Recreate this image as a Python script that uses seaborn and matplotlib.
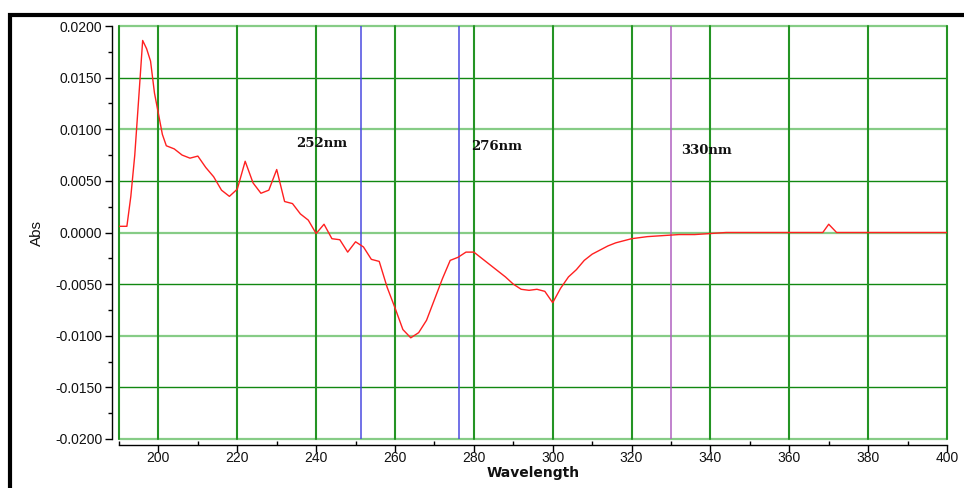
import matplotlib
matplotlib.use("Agg")
import matplotlib.pyplot as plt
import seaborn as sns
import numpy as np
import pandas as pd
from matplotlib.ticker import MultipleLocator, FuncFormatter
from matplotlib.patches import Rectangle

# ---- data ----
wavelength = [190, 192, 193, 194, 195, 196, 197, 198, 199, 200, 201, 202, 204, 206, 208,
              210, 212, 214, 216, 218, 220, 222, 224, 226, 228, 230, 232, 234, 236, 238,
              240, 242, 244, 246, 248, 250, 252, 254, 256, 258, 260, 262, 264, 266, 268,
              270, 272, 274, 276, 278, 280, 282, 284, 286, 288, 290, 292, 294, 296, 298,
              300, 302, 304, 306, 308, 310, 312, 314, 316, 318, 320, 324, 328, 332, 336,
              340, 344, 350, 360, 368.5, 370, 372, 380, 390, 400]
absorbance = [0.0006, 0.0006, 0.0035, 0.0075, 0.0130, 0.0186, 0.0178, 0.0166, 0.0135, 0.0115,
              0.0095, 0.0084, 0.0081, 0.0075, 0.0072, 0.0074, 0.0063, 0.0054, 0.0041, 0.0035,
              0.0042, 0.0069, 0.0048, 0.0038, 0.0041, 0.0061, 0.0030, 0.0028, 0.0018, 0.0012,
              -0.0001, 0.0008, -0.0006, -0.0007, -0.0019, -0.0009, -0.0014, -0.0026, -0.0028, -0.0053,
              -0.0073, -0.0094, -0.0102, -0.0097, -0.0085, -0.0065, -0.0045, -0.0027, -0.0024, -0.0019,
              -0.0019, -0.0025, -0.0031, -0.0037, -0.0043, -0.0050, -0.0055, -0.0056, -0.0055, -0.0057,
              -0.0068, -0.0054, -0.0043, -0.0036, -0.0027, -0.0021, -0.0017, -0.0013, -0.0010, -0.0008,
              -0.0006, -0.0004, -0.0003, -0.0002, -0.0002, -0.0001, 0.0000, 0.0000, 0.0000, 0.0000,
              0.0008, 0.0000, 0.0000, 0.0000, 0.0000]

marker_wl = [251.3, 276.2, 330.0]
marker_labels = ["252nm", "276nm", "330nm"]
marker_colors = ["#4a4ae0", "#4a4ae0", "#b060c0"]
label_x = [234.9, 279.3, 332.5]
label_y = [0.0086, 0.0083, 0.0079]

x_ticks = list(range(200, 401, 20))
y_ticks = [-0.02, -0.015, -0.01, -0.005, 0.0, 0.005, 0.01, 0.015, 0.02]

df = pd.DataFrame({"Wavelength": wavelength, "Abs": absorbance})

sns.set_theme(style="white")
plt.rcParams["font.family"] = ["Liberation Sans", "DejaVu Sans"]

fig = plt.figure(figsize=(9.64, 4.88), dpi=100)
ax = fig.add_axes([119 / 964, 1 - 439 / 488, (947 - 119) / 964, (439 - 26) / 488])

ax.set_xlim(190, 400)
ax.set_ylim(-0.02, 0.02)

# grid lines
for v in y_ticks:
    light = abs(round(v / 0.005)) % 2 == 0
    if light:
        ax.axhline(v, color="#86cc86", lw=1.6, zorder=1, clip_on=False)
    else:
        ax.axhline(v, color="#118811", lw=1.0, zorder=1)
for v in [190] + x_ticks:
    ax.axvline(v, color="#249424", lw=1.5, zorder=1, clip_on=False)

for wl, c in zip(marker_wl, marker_colors):
    ax.axvline(wl, color=c, lw=1.1, zorder=2)

sns.lineplot(data=df, x="Wavelength", y="Abs", ax=ax, color="#ff2020", lw=1.0,
             zorder=3, sort=False)

for t, lx, ly in zip(marker_labels, label_x, label_y):
    ax.text(lx, ly, t, fontsize=9.5, fontweight="bold", family="DejaVu Serif",
            va="center", ha="left", color="#111111", zorder=4)

# axes styling
for s in ["top", "right"]:
    ax.spines[s].set_visible(False)
sns.despine(ax=ax, offset={"left": 5, "bottom": 4})
for s in ["left", "bottom"]:
    ax.spines[s].set_color("#000000")
    ax.spines[s].set_linewidth(1.0)
ax.spines["left"].set_bounds(-0.02, 0.02)
ax.spines["bottom"].set_bounds(190, 400)

ax.xaxis.set_major_locator(MultipleLocator(20))
ax.xaxis.set_minor_locator(MultipleLocator(10))
ax.yaxis.set_major_locator(MultipleLocator(0.005))
ax.yaxis.set_minor_locator(MultipleLocator(0.0025))
ax.yaxis.set_major_formatter(FuncFormatter(lambda v, p: f"{v:.4f}".replace("-0.0000", "0.0000")))
ax.tick_params(axis="both", which="major", direction="out", length=5, width=1,
               color="black", labelsize=10, labelcolor="#111111", pad=2,
               bottom=True, left=True)
ax.tick_params(axis="x", which="major", pad=0)
ax.tick_params(axis="x", which="minor", direction="in", length=3, width=1, color="black", bottom=True)
ax.tick_params(axis="y", which="minor", direction="out", length=3, width=1, color="black", left=True)

ax.set_xlabel("Wavelength", fontsize=10, fontweight="bold", family="DejaVu Sans",
              color="#111111", labelpad=0)
ax.set_ylabel("Abs", fontsize=11, color="#111111", labelpad=8)

# outer black frame (top and left visible)
fig.add_artist(Rectangle((9.5 / 964, -0.1), 1.2, 1 - 14.7 / 488 + 0.1,
                         transform=fig.transFigure, fill=False, edgecolor="black",
                         lw=3.0, zorder=10))

fig.savefig("out.png", dpi=100)
